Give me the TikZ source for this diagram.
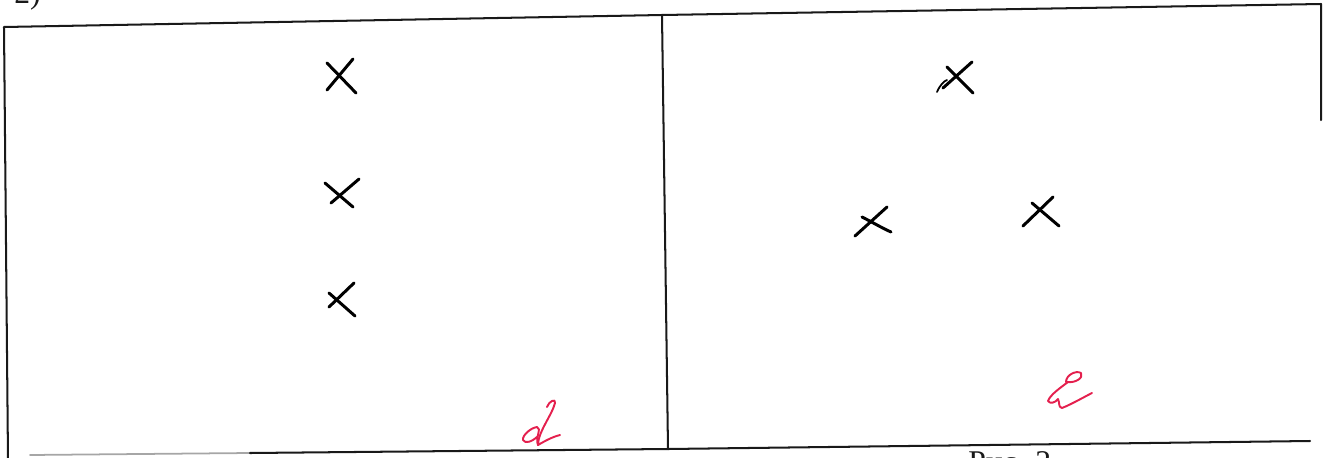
\documentclass[tikz,border=0pt]{standalone}
\usepackage{fontspec}
\setmainfont{Liberation Serif}
\definecolor{redink}{RGB}{228,32,78}
\definecolor{ink}{RGB}{25,25,25}
\begin{document}
\begin{tikzpicture}[x=0.02cm,y=-0.02cm, line cap=round, line join=round,
  border/.style={line width=1.15pt, draw=ink},
  faint/.style={line width=1.0pt, draw=black!35},
  cross/.style={line width=1.7pt, draw=black},
  redmark/.style={line width=1.1pt, draw=redink},
  caption/.style={font=\fontsize{18}{20}\selectfont, inner sep=0pt, anchor=base west, text=ink}]
\useasboundingbox (0,0) rectangle (1323,457);
\clip (0,0) rectangle (1323,457);

% frame corners
\coordinate (TL) at (4,27);
\coordinate (TM) at (662,15);
\coordinate (TR) at (1321,4);
\coordinate (RE) at (1321,120);
\coordinate (BLv) at (8,460);
\coordinate (BL) at (30,455);
\coordinate (BF) at (250,453);
\coordinate (BM) at (668,449);
\coordinate (BR) at (1310,441);

% frame
\draw[border] (BLv) -- (TL) -- (TM) -- (TR) -- (RE);
\draw[border] (TM) -- (BM);
\draw[faint] (BL) -- (BF);
\draw[border] (BF) -- (BM) -- (BR);

% captions (partly cut off)
\node[caption] (num) at (14,3) {2)};
\node[caption] (fig) at (968,472) {Рис. 2};

% crosses, left panel
\draw[cross] (327,90) -- (353,59);
\draw[cross] (327,63) -- (356,93);
\draw[cross] (331,203) -- (359,179);
\draw[cross] (325,183) -- (353,207);
\draw[cross] (329,307) -- (354,283);
\draw[cross] (329,293) -- (355,316);

% crosses, right panel
\draw[cross] (947,67) -- (973,93);
\draw[cross] (943,88) -- (972,62);
\draw[line width=1.0pt] (937,92) .. controls (940,85) and (944,81) .. (947,80);
\draw[cross] (855,236) -- (887,207);
\draw[cross] (862,217) .. controls (872,222) and (882,228) .. (891,232);
\draw[cross] (1023,226) -- (1053,197);
\draw[cross] (1032,203) -- (1059,226);

% red marks
\draw[redmark] (547,407) .. controls (549,401) and (556,398) .. (555,403)
  .. controls (552,415) and (538,432) .. (538,445)
  .. controls (545,441) and (552,437) .. (560,435);
\draw[redmark] (538,445) .. controls (535,438) and (542,428) .. (537,427)
  .. controls (530,428) and (522,436) .. (523,440)
  .. controls (525,444) and (532,442) .. (538,436);
\draw[redmark] (1066,382) .. controls (1066,375) and (1076,370) .. (1081,373)
  .. controls (1084,378) and (1075,383) .. (1068,382)
  .. controls (1060,388) and (1050,395) .. (1048,401)
  .. controls (1050,404) and (1055,403) .. (1058,399)
  .. controls (1060,403) and (1058,407) .. (1062,408)
  .. controls (1072,404) and (1084,397) .. (1092,393);
\end{tikzpicture}
\end{document}
